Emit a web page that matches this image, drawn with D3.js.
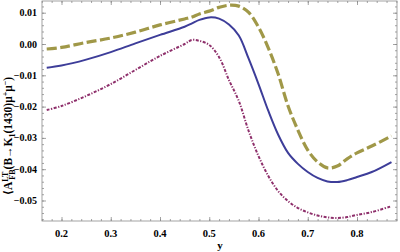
<!DOCTYPE html>
<html>
<head>
<meta charset="utf-8">
<script src="https://cdn.jsdelivr.net/npm/d3@7"></script>
<style>
  body { margin: 0; background: #fff; }
  text { font-family: "Liberation Serif", "DejaVu Serif", serif; font-weight: bold; }
</style>
</head>
<body>
<svg id="chart" width="400" height="252"></svg>
<script>
// y values (x axis)
var yVals = [0.17, 0.2, 0.25, 0.3, 0.35, 0.4, 0.45, 0.465, 0.48, 0.5, 0.52, 0.54, 0.56, 0.58, 0.6,
  0.62, 0.64, 0.66, 0.68, 0.7, 0.72, 0.74, 0.76, 0.78, 0.8, 0.83, 0.87];

// gold dashed curve
var upper = [-0.0016, -0.0011, 0.0005, 0.0019, 0.0038, 0.0061, 0.0080, 0.0086, 0.0096, 0.0105, 0.0117, 0.0124, 0.0121, 0.0101, 0.0054,
  -0.0013, -0.0096, -0.0198, -0.0275, -0.0339, -0.0377, -0.0396, -0.0390, -0.0367, -0.0348, -0.0326, -0.0294];

// blue solid curve
var central = [-0.0076, -0.0069, -0.0050, -0.0026, 0.0002, 0.0029, 0.0055, 0.0066, 0.0077, 0.0085, 0.0081, 0.0062, 0.0027, -0.0047, -0.0128,
  -0.0214, -0.0290, -0.0348, -0.0383, -0.0409, -0.0428, -0.0439, -0.0441, -0.0435, -0.0425, -0.0409, -0.0377];

// magenta dotted curve
var lower = [-0.0211, -0.0198, -0.0166, -0.0128, -0.0083, -0.0038, 0.0000, 0.0013, 0.0010, -0.0003, -0.0042, -0.0115, -0.0182, -0.0278, -0.0358,
  -0.0422, -0.0470, -0.0502, -0.0524, -0.0538, -0.0548, -0.0554, -0.0556, -0.0553, -0.0546, -0.0537, -0.0518];

var xTicks = [0.2, 0.3, 0.4, 0.5, 0.6, 0.7, 0.8];
var yTicks = [0.01, 0.00, -0.01, -0.02, -0.03, -0.04, -0.05];

var fLeft = 42, fRight = 397, fTop = 1, fBottom = 221;

var svg = d3.select("#chart");

var x = d3.scaleLinear().domain([0.1604, 0.8812]).range([fLeft, fRight]);
var y = d3.scaleLinear().domain([-0.05655, 0.01374]).range([fBottom, fTop]);

var frameCol = "#8c8c8c";

// frame ticks (all four sides, inward)
var xMinor = d3.range(0.16, 0.881, 0.02);
var yMinor = d3.range(-0.056, 0.0139, 0.002);

function tickAxis(axis, g) {
  g.call(axis);
  g.select(".domain").remove();
  g.selectAll("line").attr("stroke", frameCol).attr("stroke-width", 0.8);
}

tickAxis(d3.axisBottom(x).tickValues(xMinor).tickSize(-2).tickFormat(""),
  svg.append("g").attr("transform", "translate(0," + fBottom + ")"));
tickAxis(d3.axisBottom(x).tickValues(xTicks).tickSize(-4).tickFormat(""),
  svg.append("g").attr("transform", "translate(0," + fBottom + ")"));
tickAxis(d3.axisTop(x).tickValues(xMinor).tickSize(-2).tickFormat(""),
  svg.append("g").attr("transform", "translate(0," + fTop + ")"));
tickAxis(d3.axisTop(x).tickValues(xTicks).tickSize(-4).tickFormat(""),
  svg.append("g").attr("transform", "translate(0," + fTop + ")"));
tickAxis(d3.axisLeft(y).tickValues(yMinor).tickSize(-2).tickFormat(""),
  svg.append("g").attr("transform", "translate(" + fLeft + ",0)"));
tickAxis(d3.axisLeft(y).tickValues(yTicks).tickSize(-4).tickFormat(""),
  svg.append("g").attr("transform", "translate(" + fLeft + ",0)"));
tickAxis(d3.axisRight(y).tickValues(yMinor).tickSize(-2).tickFormat(""),
  svg.append("g").attr("transform", "translate(" + fRight + ",0)"));
tickAxis(d3.axisRight(y).tickValues(yTicks).tickSize(-4).tickFormat(""),
  svg.append("g").attr("transform", "translate(" + fRight + ",0)"));

svg.append("rect")
  .attr("x", fLeft).attr("y", fTop)
  .attr("width", fRight - fLeft).attr("height", fBottom - fTop)
  .attr("fill", "none").attr("stroke", frameCol).attr("stroke-width", 0.8);

// tick labels
svg.selectAll(".xlab").data(xTicks).enter().append("text")
  .attr("class", "xlab")
  .attr("x", function(d){ return x(d); })
  .attr("y", 237)
  .attr("text-anchor", "middle")
  .style("font-size", "10.5px")
  .text(function(d){ return d3.format(".1f")(d); });

svg.selectAll(".ylab").data(yTicks).enter().append("text")
  .attr("class", "ylab")
  .attr("x", 37)
  .attr("y", function(d){ return y(d) + 3.5; })
  .attr("text-anchor", "end")
  .style("font-size", "10px")
  .text(function(d){ return d3.format(".2f")(d).replace("-", "\u2212"); });

// axis titles
svg.append("text")
  .attr("x", 220).attr("y", 249)
  .attr("text-anchor", "middle")
  .style("font-size", "11px")
  .text("y");

var ylab = svg.append("text")
  .attr("transform", "translate(12,136) rotate(-90)")
  .attr("text-anchor", "middle")
  .style("font-size", "11.5px");
ylab.append("tspan").text("\u27e8A");
ylab.append("tspan").attr("dy", -4).style("font-size", "8px").text("LT");
ylab.append("tspan").attr("dx", -8).attr("dy", 7).style("font-size", "8px").text("FB");
ylab.append("tspan").attr("dy", -3).text("(B\u2192K");
ylab.append("tspan").attr("dy", 3).style("font-size", "8px").text("1");
ylab.append("tspan").attr("dy", -3).text("(1430)\u03bc");
ylab.append("tspan").attr("dy", -4).style("font-size", "8px").text("+");
ylab.append("tspan").attr("dy", 4).text("\u03bc");
ylab.append("tspan").attr("dy", -4).style("font-size", "8px").text("\u2212");
ylab.append("tspan").attr("dy", 4).text(")");

// curves
var series = [
  { vals: lower, color: "#8e2f6b", width: 2, dash: "3,1.5,1.2,1.5" },
  { vals: central, color: "#3d3d99", width: 2, dash: null },
  { vals: upper, color: "#a09848", width: 3.2, dash: "10,3.5" }
];

var line = d3.line()
  .x(function(d){ return x(d[0]); })
  .y(function(d){ return y(d[1]); })
  .curve(d3.curveCatmullRom);

svg.selectAll(".curve").data(series).enter().append("path")
  .attr("class", "curve")
  .attr("d", function(s){ return line(d3.zip(yVals, s.vals)); })
  .attr("fill", "none")
  .attr("stroke", function(s){ return s.color; })
  .attr("stroke-width", function(s){ return s.width; })
  .attr("stroke-dasharray", function(s){ return s.dash; });
</script>
</body>
</html>
